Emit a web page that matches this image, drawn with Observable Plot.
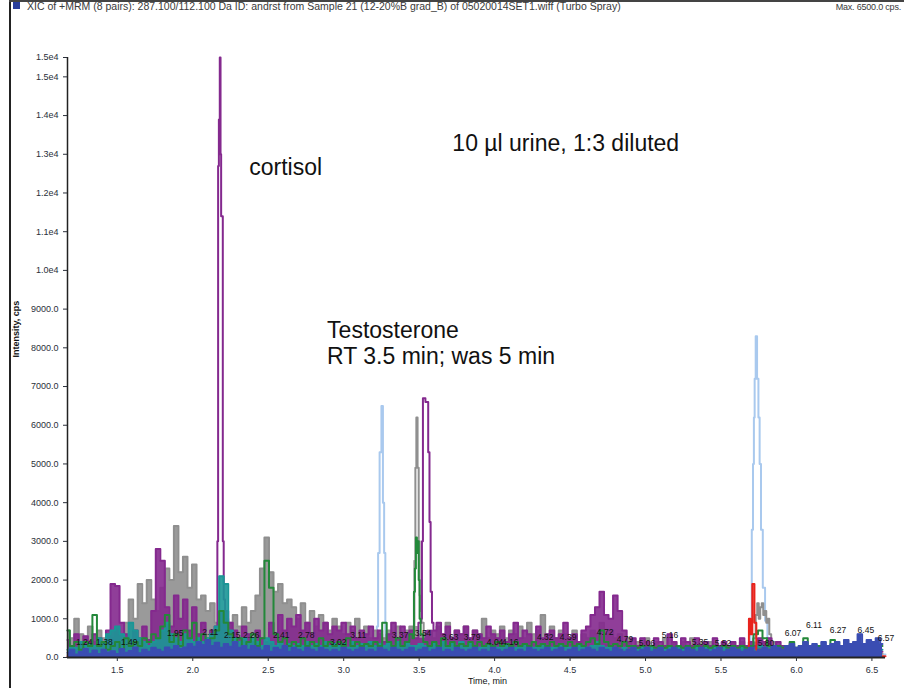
<!DOCTYPE html>
<html>
<head>
<meta charset="utf-8">
<script src="https://cdn.jsdelivr.net/npm/d3@7"></script>
<script src="https://cdn.jsdelivr.net/npm/@observablehq/plot@0.6"></script>
<style>
  html, body { margin: 0; padding: 0; background: #fff; }
  #wrap { position: relative; width: 904px; height: 688px; overflow: hidden; font-family: "Liberation Sans", Arial, sans-serif; }
  #chart { position: absolute; left: 0; top: 0; }
  .hdr { position: absolute; top: 0px; font-family: "Liberation Sans Narrow", "Liberation Sans", Arial, sans-serif; color: #3a3a3a; white-space: nowrap; }
  #frameL { position: absolute; left: 9px; top: 0; width: 2px; height: 688px; background: #222; }
  #frameT { position: absolute; left: 9px; top: 0; width: 895px; height: 2px; background: #444; }
  #icon { position: absolute; left: 13px; top: 2px; width: 7px; height: 7px; background: #2b3f9c; }
</style>
</head>
<body>
<div id="wrap">
  <div id="chart"></div>
  <div id="frameL"></div>
  <div id="frameT"></div>
  <div id="icon"></div>
  <div class="hdr" style="left:27px; font-size:10.5px;">XIC of +MRM (8 pairs): 287.100/112.100 Da ID: andrst from Sample 21 (12-20%B grad_B) of 05020014SET1.wiff (Turbo Spray)</div>
  <div class="hdr" style="right:3px; font-size:9px; top:2px; letter-spacing:-0.2px;">Max. 6500.0 cps.</div>
</div>
<script>
// ---- sampling grid (retention time, min) ----
const gridStart = 1.17, gridStep = 0.03, gridCount = 181;

// ---- baseline traces on the grid (cps); null = replaced by peak detail ----
const purpleVals = [
  450,300,600,350,550,400,600,500,350,700,
  1900,1850,900,600,400,700,500,800,450,1200,
  2800,2500,1300,800,1600,1000,1500,700,1300,600,
  900,500,700,null,null,1200,900,700,500,800,
  600,400,700,500,400,900,600,1100,700,1000,
  800,1100,700,900,600,1000,700,900,600,800,
  700,900,600,800,500,700,600,800,500,700,
  400,600,900,500,800,600,700,500,null,null,
  null,700,900,600,800,500,700,600,800,500,
  700,600,500,800,600,500,700,400,600,900,
  500,700,600,400,800,500,600,700,500,600,
  900,500,600,400,700,800,1100,1300,1700,1100,
  1000,1600,1200,700,400,500,300,500,400,300,
  500,400,300,600,400,300,500,400,300,500,
  300,400,300,500,300,400,300,400,300,500,
  300,400,300,500,400,500,300,400,300,200,
  300,200,250,150,200,150,200,100,150,100,
  150,100,150,100,120,100,150,100,120,100,150
];
const grayVals = [
  700,500,1000,600,500,800,400,700,500,600,
  500,700,600,900,1500,1000,1900,1400,2000,1500,
  1200,1800,2300,2000,3400,2200,2600,1800,2400,1500,
  1600,1200,1400,900,800,1000,900,1100,800,1300,
  900,1200,1600,2300,3100,2200,1700,1900,1400,1500,
  1300,1000,1400,900,1200,800,1100,900,700,1000,
  800,600,900,700,1000,600,800,500,700,600,
  500,700,600,800,500,700,800,null,null,600,
  700,500,800,600,900,500,700,600,800,500,
  700,600,1000,500,700,600,800,500,700,600,
  800,500,900,600,700,1100,600,800,500,700,
  600,500,700,400,600,500,700,600,900,600,
  700,500,600,400,500,300,400,300,500,300,
  400,300,500,300,400,300,400,300,500,300,
  400,300,400,300,300,400,300,400,300,400,
  300,400,null,null,null,null,400,300,250,200,
  150,100,150,100,120,100,150,100,100,120,
  100,120,100,150,100,100,120,100,100,120,100
];
const greenVals = [
  700,300,400,200,400,300,1100,300,400,200,
  300,400,200,500,300,400,300,500,400,600,
  500,800,1100,400,600,300,700,500,900,400,
  600,400,500,700,1200,900,600,400,500,300,
  400,600,300,500,2500,1800,600,400,500,300,
  400,300,500,300,400,300,500,300,400,300,
  400,300,500,300,400,300,350,300,400,300,
  900,400,300,500,300,400,600,null,null,400,
  300,400,300,500,300,400,300,350,300,400,
  300,400,300,350,300,400,300,350,300,400,
  300,350,300,400,300,350,300,400,300,350,
  300,400,300,350,300,400,500,350,700,400,
  300,350,300,400,300,300,250,300,250,300,
  250,300,250,300,250,300,250,300,250,300,
  250,300,250,300,250,300,250,300,250,300,
  250,300,600,700,500,300,250,300,250,300,
  400,250,300,500,300,250,300,250,300,450,
  300,250,300,250,300,250,350,250,300,250,300
];
const tealVals = [
  200,300,250,400,300,350,300,500,400,600,
  700,800,600,500,900,700,500,400,300,400,
  500,700,900,600,500,400,600,500,400,500,
  400,500,600,800,2100,1900,700,500,400,500,
  400,500,400,300,500,400,300,400,300,350,
  300,350,300,400,300,350,300,400,300,350,
  300,350,250,400,300,350,300,400,300,350,
  300,350,300,400,300,350,300,300,350,300,
  300,350,300,400,300,350,300,400,300,350,
  300,250,300,350,300,250,300,350,300,250,
  300,350,300,250,300,350,300,250,300,350,
  300,250,300,350,300,250,300,400,300,250,
  300,250,200,250,200,250,200,250,200,250,
  200,250,200,250,200,250,200,250,200,250,
  200,250,200,250,200,250,200,250,200,250,
  200,250,200,300,250,300,250,200,250,300,
  250,200,250,300,200,250,200,250,200,250,
  200,250,200,250,200,250,200,250,200,250,200
];
const blueVals = [
  120,200,80,150,220,100,180,90,200,130,
  160,90,220,120,170,260,110,200,150,250,
  200,150,260,200,300,220,260,350,280,400,
  320,450,300,380,250,350,280,400,250,300,
  200,300,250,180,300,150,250,200,300,150,
  250,200,150,250,200,150,250,200,150,200,
  150,250,200,150,200,250,150,200,150,250,
  200,150,250,200,150,200,250,150,200,250,
  150,200,250,150,200,150,250,200,150,200,
  250,150,200,150,250,200,150,200,250,150,
  200,150,250,200,150,200,250,150,200,250,
  150,200,250,150,200,250,200,150,250,200,
  150,250,200,150,200,250,150,200,250,150,
  200,250,150,200,250,200,150,250,200,150,
  250,200,150,200,250,150,200,250,200,150,
  200,250,150,200,250,200,300,250,200,300,
  350,250,300,400,300,350,250,400,300,350,
  400,300,450,350,400,600,350,450,400,500,350
];

// ---- peak detail (time, cps) ----
const purplePeakTimes = [2.160,2.166,2.170,2.176,2.182,2.186,2.190,2.196,2.202,2.208,
                         3.510,3.515,3.522,3.528,3.555,3.565,3.572,3.580,3.590];
const purplePeakVals  = [800,3000,12700,13900,15500,13000,11400,11400,3000,1500,
                         900,1000,3000,6700,6600,5300,3500,1700,900];
const grayPeakTimes = [3.465,3.472,3.478,3.485,3.494,3.500,3.506,3.512,3.520,
                       5.725,5.735,5.745,5.755,5.765,5.775,5.785,5.795,5.805,5.815,5.825,5.840];
const grayPeakVals  = [700,2500,4900,6200,4900,3000,1600,1200,900,
                       500,1100,1400,1000,1300,1400,1100,1200,900,1000,600,400];
const greenPeakTimes = [3.462,3.469,3.475,3.482,3.488,3.494,3.500,3.506,3.514];
const greenPeakVals  = [500,1700,2300,3100,2700,3000,2000,1000,600];
const lightBlueTimes = [1.17,3.215,3.224,3.232,3.244,3.256,3.264,3.272,3.280,3.290,
                        5.690,5.700,5.708,5.716,5.720,5.726,5.734,5.744,5.752,5.760,5.770,5.784,5.800,5.815,5.830,6.59];
const lightBlueVals  = [80,100,800,2700,5300,6500,4000,2700,500,100,
                        150,900,3300,5000,6200,7200,8300,7200,6200,5000,3300,1800,950,400,150,80];
const redTimes = [1.17,5.680,5.690,5.700,5.715,5.728,5.740,6.59];
const redVals  = [30,100,1000,600,1900,900,200,30];

// ---- peak labels ----
const labelTexts = ["1.24","1.38","1.49","1.95","2.11","2.15","2.26","2.41","2.78","3.02","3.11","3.37","3.54","3.63","3.79",
                    "4.04","4.16","4.32","4.39","4.72","4.79","5.06","5.16","5.35","5.52","5.80","6.07","6.11","6.27","6.45","6.57"];
const labelTimes = [1.281,1.414,1.579,1.884,2.116,2.262,2.387,2.586,2.752,2.964,3.096,3.374,3.526,3.705,3.851,
                    4.003,4.103,4.335,4.487,4.732,4.864,5.010,5.162,5.361,5.513,5.798,5.977,6.116,6.275,6.460,6.593];
const labelHeights = [390,390,390,620,650,570,570,570,570,390,570,570,620,520,520,
                      390,390,520,520,650,465,360,570,390,360,360,620,830,700,700,490];

// ---- axis ticks ----
const yTicks = [0,1000,2000,3000,4000,5000,6000,7000,8000,9000,10000,11000,12000,13000,14000,15000,15500];
const xTicks = [1.5,2.0,2.5,3.0,3.5,4.0,4.5,5.0,5.5,6.0,6.5];

// ---- annotations ----
const notes = [
  {t: 2.374, v: 12660, text: "cortisol"},
  {t: 3.72, v: 13280, text: "10 µl urine, 1:3 diluted"},
  {t: 2.89, v: 8450, text: "Testosterone"},
  {t: 2.89, v: 7780, text: "RT 3.5 min; was 5 min"}
];

const gridTimes = d3.range(gridCount).map(i => +(gridStart + gridStep * i).toFixed(3));
function build(vals, pt = [], pv = []) {
  const pts = gridTimes.map((t, i) => ({t, v: vals[i]})).filter(d => d.v != null);
  pt.forEach((t, i) => pts.push({t, v: pv[i]}));
  return pts.sort((a, b) => a.t - b.t);
}
function pairs(ts, vs) { return ts.map((t, i) => ({t, v: vs[i]})); }

const purpleBase = build(purpleVals), grayBase = build(grayVals), tealBase = build(tealVals);
const purple = build(purpleVals, purplePeakTimes, purplePeakVals);
const gray = build(grayVals, grayPeakTimes, grayPeakVals);
const green = build(greenVals, greenPeakTimes, greenPeakVals);
const teal = tealBase;
const blue = build(blueVals);
const lightBlue = pairs(lightBlueTimes, lightBlueVals);
const red = pairs(redTimes, redVals);
const labels = labelTexts.map((s, i) => ({text: s, t: labelTimes[i], v: labelHeights[i]}));

const C = {purple: "#84298e", gray: "#8f8f8f", teal: "#1b9696", green: "#23883a", blue: "#3a4db2", light: "#a9c9ee", red: "#e8231d"};
const yFmt = v => v >= 10000 ? (Math.floor(v / 1000) / 10).toFixed(1) + "e4" : v.toFixed(1);
const sw = 2;
const line = (data, color) => Plot.line(data, {x: "t", y: "v", stroke: color, strokeWidth: sw, curve: "step"});
const area = (data, color, op = 1) => Plot.areaY(data, {x: "t", y: "v", fill: color, fillOpacity: op, curve: "step"});

const chart = Plot.plot({
  width: 904, height: 688,
  marginLeft: 67, marginRight: 19, marginTop: 57, marginBottom: 31,
  style: {fontFamily: "'Liberation Sans Narrow', 'Liberation Sans', Arial, sans-serif", fontSize: "9px", color: "#2a2f3a", background: "transparent"},
  x: {domain: [1.17, 6.59]},
  y: {domain: [0, 15500]},
  marks: [
    line(lightBlue, C.light),
    area(grayBase, C.gray, 0.9),
    line(gray, C.gray),
    area(purpleBase, C.purple, 0.9),
    line(purple, C.purple),
    area(tealBase, C.teal, 0.9),
    line(teal, C.teal),
    line(green, C.green),
    line(red, C.red),
    area(blue, C.blue),
    line(blue, C.blue),
    Plot.text(labels, {x: "t", y: "v", text: "text", fontSize: 8.5, fill: "#111"}),
    Plot.ruleX([1.17], {stroke: "#222", strokeWidth: 1.5}),
    Plot.ruleY([0], {stroke: "#222", strokeWidth: 2}),
    Plot.axisY({ticks: yTicks, tickFormat: yFmt, tickSize: 4, label: null, fontSize: 9}),
    Plot.axisX({ticks: xTicks, tickFormat: d => d.toFixed(1), tickSize: 4, label: null, fontSize: 9}),
    Plot.text(["Intensity, cps"], {frameAnchor: "left", rotate: -90, dx: -51, fontWeight: "bold", fontSize: 9, fill: "#111"}),
    Plot.text(["Time, min"], {frameAnchor: "bottom", dy: 26, dx: 11, fontSize: 9, fill: "#111"}),
    Plot.text(notes, {x: "t", y: "v", text: "text", textAnchor: "start", fontSize: 23, fill: "#111",
      fontFamily: "'Liberation Sans', Arial, sans-serif"})
  ]
});
document.getElementById("chart").appendChild(chart);
</script>
</body>
</html>
